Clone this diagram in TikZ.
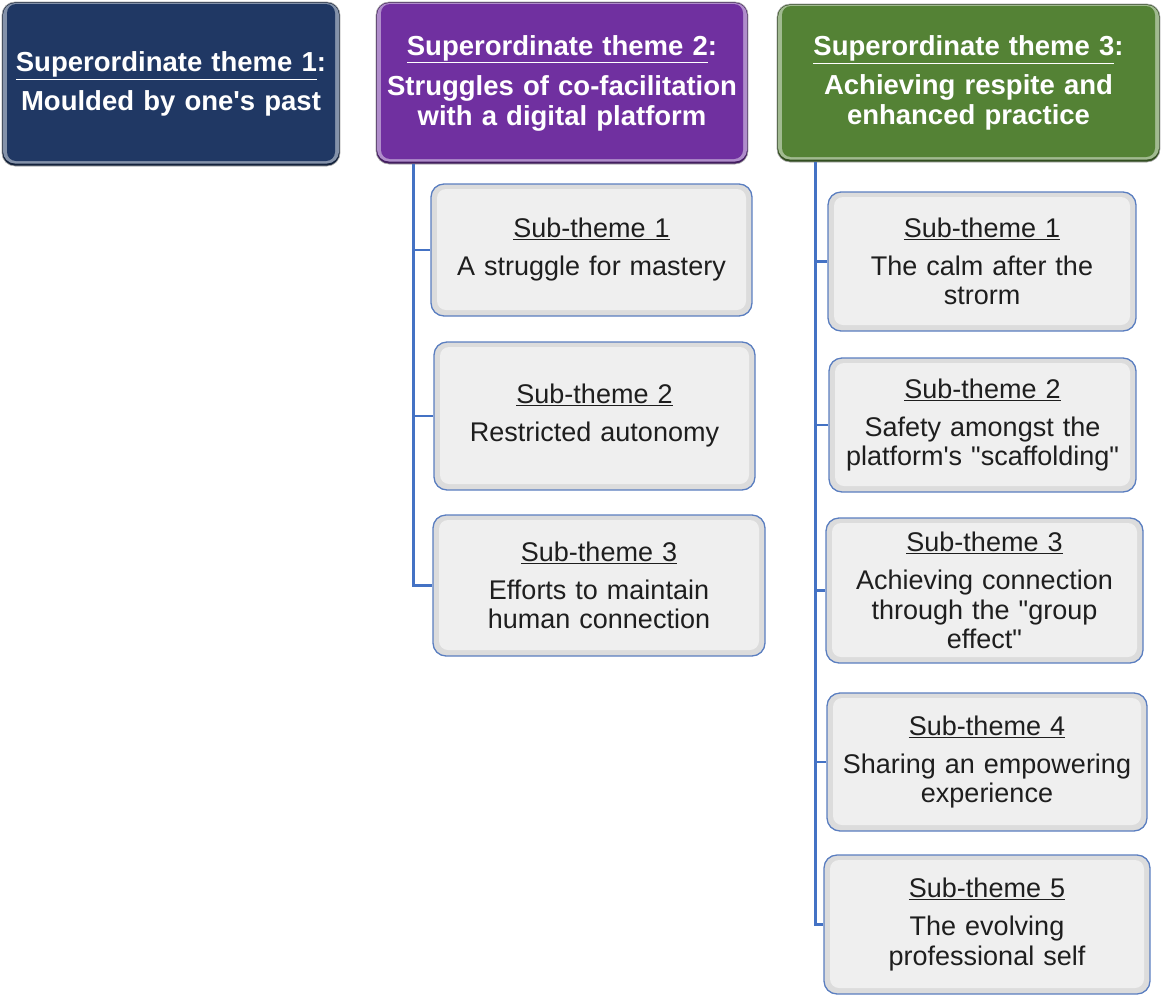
\documentclass[tikz,border=0pt]{standalone}
\usepackage{fontspec}
\setmainfont{Liberation Sans}
\usetikzlibrary{calc}
\definecolor{navy}{HTML}{203864}
\definecolor{purp}{HTML}{7030A0}
\definecolor{grn}{HTML}{548235}
\definecolor{lineblue}{HTML}{4472C4}
\definecolor{subedge}{HTML}{5A7EC0}
\definecolor{subfill}{HTML}{EFEFEF}
\definecolor{subrim}{HTML}{DCDCDC}
\definecolor{txt}{HTML}{1E1E1E}
\tikzset{
  every node/.style={inner sep=0pt},
  box/.style 2 args={minimum width=#1, minimum height=#2},
  head/.style={rounded corners=13pt, align=center, text=white,
    font=\fontsize{27.5}{29.5}\selectfont\bfseries, text width=#1,
    draw=black!35, line width=0.6pt},
  hbevel/.style={path picture={
    \fill[#1!60!black] (path picture bounding box.south west) rectangle (path picture bounding box.north east);
    \fill[#1!55!white, rounded corners=12pt] ([shift={(1pt,2.5pt)}]path picture bounding box.south west) rectangle ([shift={(-1pt,-1pt)}]path picture bounding box.north east);
    \fill[#1, rounded corners=9pt] ([shift={(5pt,5pt)}]path picture bounding box.south west) rectangle ([shift={(-5pt,-2pt)}]path picture bounding box.north east);
  }},
  sub/.style={rounded corners=13pt, align=center, text=txt,
    font=\fontsize{27}{29.5}\selectfont, text width=300pt,
    draw=subedge, line width=1.3pt,
    path picture={
      \fill[subrim] (path picture bounding box.south west) rectangle (path picture bounding box.north east);
      \fill[subfill, rounded corners=9pt] ([shift={(6pt,6pt)}]path picture bounding box.south west) rectangle ([shift={(-6pt,-5pt)}]path picture bounding box.north east);
    }},
  conn/.style={draw=lineblue, line width=2.6pt}
}
\begin{document}
\begin{tikzpicture}[x=1pt, y=-1pt]
\useasboundingbox (0,0) rectangle (1162,996);

\coordinate (c2) at (414,164);
\coordinate (c3) at (816,162);

% superordinate themes
\node[head=330pt, hbevel=navy, box={338pt}{164pt}] (t1) at (171,84)
  {\underline{Superordinate theme 1}:\\[9.5pt]Moulded by one\textquotesingle s past};
\node[head=362pt, hbevel=purp, box={372pt}{162pt}] (t2) at (562,83)
  {\underline{Superordinate theme 2}:\\[11pt]Struggles of co-facilitation\\with a digital platform};
\node[head=370pt, hbevel=grn, box={383pt}{158pt}] (t3) at (968.5,83)
  {\underline{Superordinate theme 3}:\\[9.5pt]Achieving respite and\\enhanced practice};

% sub-themes of theme 2
\node[sub, box={321pt}{132pt}] (s21) at (591.5,250)
  {\underline{Sub-theme 1}\\[8.5pt]A struggle for mastery};
\node[sub, box={321pt}{148pt}] (s22) at (594.5,416)
  {\underline{Sub-theme 2}\\[8.5pt]Restricted autonomy};
\node[sub, box={332pt}{141pt}] (s23) at (599,585.5)
  {\underline{Sub-theme 3}\\[8.5pt]Efforts to maintain\\human connection};

% sub-themes of theme 3
\node[sub, box={308pt}{139pt}] (s31) at (982,261.5)
  {\underline{Sub-theme 1}\\[8.5pt]The calm after the\\strorm};
\node[sub, box={307pt}{134pt}] (s32) at (982.5,425)
  {\underline{Sub-theme 2}\\[8.5pt]Safety amongst the\\platform\textquotesingle s \textquotedbl scaffolding\textquotedbl};
\node[sub, box={317pt}{145pt}] (s33) at (984.5,590.5)
  {\underline{Sub-theme 3}\\[8.5pt]Achieving connection\\through the \textquotedbl group\\effect\textquotedbl};
\node[sub, box={320pt}{138pt}] (s34) at (987,762)
  {\underline{Sub-theme 4}\\[8.5pt]Sharing an empowering\\experience};
\node[sub, box={326pt}{139pt}] (s35) at (987,924.5)
  {\underline{Sub-theme 5}\\[8.5pt]The evolving\\professional self};

% connectors
\foreach \s in {s21,s22,s23} \draw[conn] (c2 -| t2.south west) ++(38pt,0) |- (\s.west);
\foreach \s in {s31,s32,s33,s34,s35} \draw[conn] (c3 -| t3.south west) ++(39pt,0) |- (\s.west);
\end{tikzpicture}
\end{document}
